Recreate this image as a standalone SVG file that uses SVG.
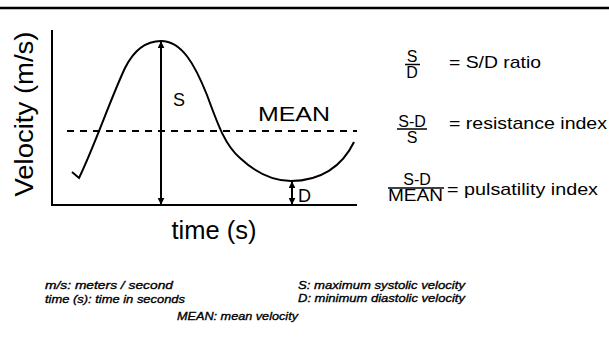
<svg xmlns="http://www.w3.org/2000/svg" width="609" height="347" viewBox="0 0 609 347">
<style>
text{font-family:"Liberation Sans",Arial,sans-serif;fill:#000}
.ln{stroke:#000;stroke-width:2;fill:none}
.lab{font-size:18px}
.frac{font-size:16px;text-anchor:middle}
.eq{font-size:17px}
.note{font-size:11.5px;font-style:italic;stroke:#000;stroke-width:0.35}
</style>
<defs>
<marker id="ah" viewBox="0 0 10 10" refX="9" refY="5" markerUnits="userSpaceOnUse" markerWidth="7" markerHeight="7" orient="auto-start-reverse">
<path d="M0,0 L10,5 L0,10 Z" fill="#000"/>
</marker>
</defs>
<rect width="609" height="347" fill="#fff"/>
<line x1="0" y1="8" x2="609" y2="8" stroke="#000" stroke-width="2.5"/>
<g id="axes">
<polyline class="ln" points="52,30 52,205 357,205"/>
<text class="lab" transform="translate(33,114) rotate(-90)" text-anchor="middle" style="font-size:25px" textLength="165" lengthAdjust="spacingAndGlyphs">Velocity (m/s)</text>
<text class="lab" x="214" y="239" text-anchor="middle" style="font-size:25px" textLength="85" lengthAdjust="spacingAndGlyphs">time (s)</text>
</g>
<g id="curve">
<path class="ln" d="M72,172 L79,178 C95,145 110,100 125,68 C135,48 148,41 161,41 C182,41 195,65 207,95 C218,125 225,145 240,158 C255,172 272,181 291,181 C320,181 342,167 354,142"/>
<line x1="67" y1="131" x2="357" y2="131" stroke="#000" stroke-width="2" stroke-dasharray="7,6"/>
<text x="258" y="121" style="font-size:20px" textLength="72" lengthAdjust="spacingAndGlyphs">MEAN</text>
</g>
<g id="connectors">
<line class="ln" x1="161" y1="42" x2="161" y2="204" marker-start="url(#ah)" marker-end="url(#ah)"/>
<line class="ln" x1="292" y1="182" x2="292" y2="204" marker-start="url(#ah)" marker-end="url(#ah)"/>
</g>
<g id="s-label"><text class="lab" x="179" y="106" text-anchor="middle">S</text></g>
<g id="d-label"><text class="lab" x="298" y="202">D</text></g>
<g id="sd-ratio">
<text class="frac" x="412" y="62">S</text>
<line x1="405" y1="64.5" x2="420" y2="64.5" stroke="#000" stroke-width="1.5"/>
<text class="frac" x="412" y="78">D</text>
<text class="eq" x="449" y="68" textLength="92" lengthAdjust="spacingAndGlyphs">= S/D ratio</text>
</g>
<g id="resistance-index">
<text class="frac" x="412" y="127">S-D</text>
<line x1="397" y1="129" x2="427" y2="129" stroke="#000" stroke-width="1.5"/>
<text class="frac" x="412" y="143">S</text>
<text class="eq" x="449" y="129" textLength="158" lengthAdjust="spacingAndGlyphs">= resistance index</text>
</g>
<g id="pulsatility-index">
<text class="frac" x="417" y="185">S-D</text>
<line x1="388" y1="188" x2="444" y2="188" stroke="#000" stroke-width="1.5"/>
<text class="frac" x="415.5" y="201" textLength="55" lengthAdjust="spacingAndGlyphs">MEAN</text>
<text class="eq" x="447" y="195" textLength="151" lengthAdjust="spacingAndGlyphs">= pulsatility index</text>
</g>
<g id="legend">
<text class="note" x="45" y="289" textLength="128" lengthAdjust="spacingAndGlyphs">m/s: meters / second</text>
<text class="note" x="45" y="302.5" textLength="140" lengthAdjust="spacingAndGlyphs">time (s): time in seconds</text>
<text class="note" x="298" y="288.5" textLength="167" lengthAdjust="spacingAndGlyphs">S: maximum systolic velocity</text>
<text class="note" x="298" y="302" textLength="167" lengthAdjust="spacingAndGlyphs">D: minimum diastolic velocity</text>
<text class="note" x="177" y="320" textLength="121" lengthAdjust="spacingAndGlyphs">MEAN: mean velocity</text>
</g>
</svg>
